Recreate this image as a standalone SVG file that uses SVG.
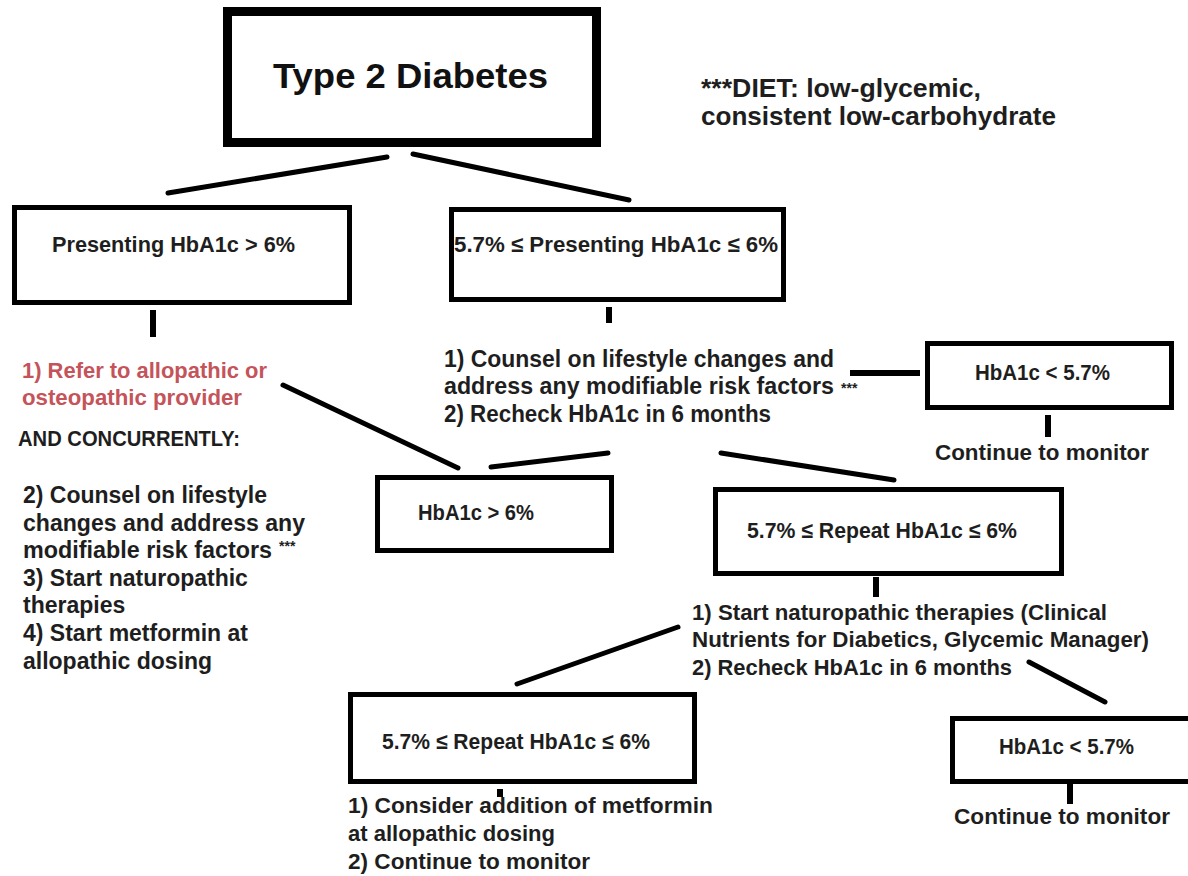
<svg xmlns="http://www.w3.org/2000/svg" width="1188" height="876" viewBox="0 0 1188 876">
<style>
.bg{fill:#ffffff}
.box{fill:#ffffff;stroke:#000000;stroke-width:5}
.big{fill:#ffffff;stroke:#000000;stroke-width:9}
.t{font-family:"Liberation Sans",Arial,sans-serif;font-weight:bold;font-size:22px;fill:#1e1e1e}
.b23{font-size:23px}
.red{fill:#c4545a}
.title{font-size:35px;fill:#111}
.diet{font-size:26px}
.sm{font-size:14px}
.ln{stroke:#000000;stroke-width:5;stroke-linecap:round;fill:none}
.tk{stroke:#000000;stroke-width:6;fill:none}
</style>
<rect class="bg" x="0" y="0" width="1188" height="876"/>

<g id="connectors">
<line class="ln" x1="387" y1="157" x2="168" y2="193"/>
<line class="ln" x1="413" y1="154" x2="629" y2="200"/>
<line class="tk" x1="153" y1="310" x2="153" y2="337"/>
<line class="tk" x1="609" y1="307" x2="609" y2="323"/>
<line class="ln" x1="283" y1="385" x2="458" y2="468"/>
<line class="ln" x1="491" y1="467" x2="608" y2="453"/>
<line class="ln" x1="721" y1="453" x2="894" y2="480"/>
<line class="tk" x1="850" y1="373" x2="920" y2="373"/>
<line class="tk" x1="1048" y1="415" x2="1048" y2="437"/>
<line class="tk" x1="876" y1="577" x2="876" y2="597"/>
<line class="ln" x1="678" y1="627" x2="517" y2="684"/>
<line class="ln" x1="1029" y1="662" x2="1105" y2="702"/>
<line class="tk" x1="500" y1="789" x2="500" y2="797"/>
<line class="tk" x1="1070" y1="784" x2="1070" y2="804"/>
</g>

<g id="node-type2">
<rect class="big" x="227.5" y="11.5" width="369" height="131"/>
<text class="t title" x="273" y="88" textLength="275" lengthAdjust="spacingAndGlyphs">Type 2 Diabetes</text>
</g>

<g id="note-diet">
<text class="t diet" x="701" y="97" textLength="280" lengthAdjust="spacingAndGlyphs">***DIET: low-glycemic,</text>
<text class="t diet" x="701" y="125" textLength="355" lengthAdjust="spacingAndGlyphs">consistent low-carbohydrate</text>
</g>

<g id="node-presenting-high">
<rect class="box" x="14.5" y="207.5" width="335" height="95"/>
<text class="t" x="52" y="252" textLength="243" lengthAdjust="spacingAndGlyphs">Presenting HbA1c &gt; 6%</text>
</g>

<g id="node-presenting-mid">
<rect class="box" x="451.5" y="209.5" width="332" height="90"/>
<text class="t" x="454" y="252" textLength="324" lengthAdjust="spacingAndGlyphs">5.7% ≤ Presenting HbA1c ≤ 6%</text>
</g>

<g id="text-left-actions">
<text class="t red" x="22" y="378" textLength="245" lengthAdjust="spacingAndGlyphs">1) Refer to allopathic or</text>
<text class="t red" x="22" y="405" textLength="220" lengthAdjust="spacingAndGlyphs">osteopathic provider</text>
<text class="t" font-size="21" x="18" y="446" textLength="222" lengthAdjust="spacingAndGlyphs">AND CONCURRENTLY:</text>
<text class="t b23" x="23" y="503" textLength="244" lengthAdjust="spacingAndGlyphs">2) Counsel on lifestyle</text>
<text class="t b23" x="23" y="531" textLength="282" lengthAdjust="spacingAndGlyphs">changes and address any</text>
<text class="t b23" x="23" y="558"><tspan textLength="249" lengthAdjust="spacingAndGlyphs">modifiable risk factors</tspan><tspan class="sm" x="279" dy="-7">***</tspan></text>
<text class="t b23" x="23" y="586">3) Start naturopathic</text>
<text class="t b23" x="23" y="613">therapies</text>
<text class="t b23" x="23" y="641">4) Start metformin at</text>
<text class="t b23" x="23" y="669">allopathic dosing</text>
</g>

<g id="text-mid-actions">
<text class="t b23" x="444" y="367" textLength="390" lengthAdjust="spacingAndGlyphs">1) Counsel on lifestyle changes and</text>
<text class="t b23" x="444" y="394"><tspan textLength="390" lengthAdjust="spacingAndGlyphs">address any modifiable risk factors</tspan><tspan class="sm" x="841" dy="-1">***</tspan></text>
<text class="t b23" x="444" y="422" textLength="327" lengthAdjust="spacingAndGlyphs">2) Recheck HbA1c in 6 months</text>
</g>

<g id="node-low-1">
<rect class="box" x="927.5" y="343.5" width="244" height="64"/>
<text class="t" x="975" y="380" textLength="135" lengthAdjust="spacingAndGlyphs">HbA1c &lt; 5.7%</text>
<text class="t" x="935" y="460" textLength="214" lengthAdjust="spacingAndGlyphs">Continue to monitor</text>
</g>

<g id="node-high-repeat">
<rect class="box" x="377.5" y="477.5" width="234" height="73"/>
<text class="t" x="418" y="520" textLength="116" lengthAdjust="spacingAndGlyphs">HbA1c &gt; 6%</text>
</g>

<g id="node-repeat-mid">
<rect class="box" x="715.5" y="489.5" width="346" height="84"/>
<text class="t" x="747" y="538" textLength="270" lengthAdjust="spacingAndGlyphs">5.7% ≤ Repeat HbA1c ≤ 6%</text>
</g>

<g id="text-naturopathic">
<text class="t" x="692" y="620" textLength="415" lengthAdjust="spacingAndGlyphs">1) Start naturopathic therapies (Clinical</text>
<text class="t" x="692" y="647" textLength="457" lengthAdjust="spacingAndGlyphs">Nutrients for Diabetics, Glycemic Manager)</text>
<text class="t" x="692" y="675" textLength="320" lengthAdjust="spacingAndGlyphs">2) Recheck HbA1c in 6 months</text>
</g>

<g id="node-repeat-bottom">
<rect class="box" x="350.5" y="694.5" width="344" height="87"/>
<text class="t" x="382" y="749" textLength="268" lengthAdjust="spacingAndGlyphs">5.7% ≤ Repeat HbA1c ≤ 6%</text>
<text class="t" x="348" y="813" textLength="365" lengthAdjust="spacingAndGlyphs">1) Consider addition of metformin</text>
<text class="t" x="348" y="841" textLength="207" lengthAdjust="spacingAndGlyphs">at allopathic dosing</text>
<text class="t" x="348" y="869" textLength="242" lengthAdjust="spacingAndGlyphs">2) Continue to monitor</text>
</g>

<g id="node-low-2">
<rect class="box" x="952.5" y="718.5" width="240" height="63"/>
<text class="t" x="999" y="754" textLength="135" lengthAdjust="spacingAndGlyphs">HbA1c &lt; 5.7%</text>
<text class="t" x="954" y="824" textLength="216" lengthAdjust="spacingAndGlyphs">Continue to monitor</text>
</g>
</svg>
